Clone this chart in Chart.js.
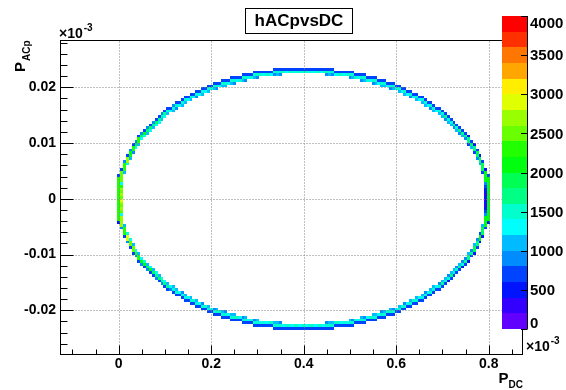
<!DOCTYPE html>
<html>
<head>
<meta charset="utf-8">
<script src="https://cdn.jsdelivr.net/npm/chart.js@4/dist/chart.umd.min.js"></script>
<style>
  html, body { margin: 0; padding: 0; background: #fff; }
  canvas { display: block; }
</style>
</head>
<body>
<canvas id="c" width="566" height="390"></canvas>
<script>
// ---- histogram binning (TH2 hACpvsDC), values shown in units of 1e-3 ----
const xBinWidth = 0.00625, xBinStart = -0.003125;  // column c is centred on c * xBinWidth
const yBinWidth = 0.0005,  yBinStart = 0;          // row r covers [r*w, (r+1)*w)

// ---- axis ranges and ticks ----
const xAxisRange = [-0.1269, 0.8735];
const yAxisRange = [-0.02784, 0.02836];
const xTickValues = [0, 0.2, 0.4, 0.6, 0.8];
const xTickLabels = ["0", "0.2", "0.4", "0.6", "0.8"];
const xMinorTicks = [-0.1, -0.05, 0.05, 0.1, 0.15, 0.25, 0.3, 0.35, 0.45, 0.5, 0.55, 0.65, 0.7, 0.75, 0.85];
const yTickValues = [-0.02, -0.01, 0, 0.01, 0.02];
const yTickLabels = ["-0.02", "-0.01", "0", "0.01", "0.02"];
const yMinorTicks = [-0.026, -0.024, -0.022, -0.018, -0.016, -0.014, -0.012, -0.008, -0.006, -0.004, -0.002,
                     0.002, 0.004, 0.006, 0.008, 0.012, 0.014, 0.016, 0.018, 0.022, 0.024, 0.026, 0.028];

// ---- colour scale ----
const paletteLevels = [0, 200, 400, 600, 800, 1000, 1200, 1400, 1600, 1800, 2000,
                       2200, 2400, 2600, 2800, 3000, 3200, 3400, 3600, 3800, 4000];
const paletteColors = ["#6200ff", "#3300ff", "#0014ff", "#0044ff", "#008bff", "#00bbff", "#00fffc",
                       "#00ffcc", "#00ff85", "#00ff55", "#00ff0e", "#22ff00", "#69ff00", "#99ff00",
                       "#e0ff00", "#ffee00", "#ffa700", "#ff7700", "#ff3000", "#ff0000"];
const zTickValues = [0, 500, 1000, 1500, 2000, 2500, 3000, 3500, 4000];
const zTickLabels = ["0", "500", "1000", "1500", "2000", "2500", "3000", "3500", "4000"];

// ---- filled bins: for each x column (0..128) the row span of the upper and lower arcs ----
// upper arc: lowest row, highest row; counts at inner edge / body / outer edge
const topLo = [-1,5,9,12,14,16,18,19,21,22, 23,24,25,26,27,28,29,30,31,31, 32,33,33,34,35,35,36,36,37,37,
  38,38,39,39,39,40,40,40,41,41, 41,42,42,42,42,43,43,43,43,44, 44,44,44,44,44,44,44,45,45,45, 45,45,45,45,
  45,
  45,45,45,45, 45,45,45,44,44,44,44,44,44,44, 44,43,43,43,43,42,42,42,42,41, 41,41,40,40,40,39,39,39,38,38,
  37,37,36,36,35,35,34,33,33,32, 31,31,30,29,28,27,26,25,24,23, 22,21,19,18,16,14,12,9,5,-1];
const topHi = [8,10,13,15,17,19,20,22,23,24, 25,26,27,28,29,30,31,32,32,33, 34,34,35,36,36,37,37,38,38,39,
  39,40,40,41,41,41,42,42,42,43, 43,43,43,44,44,44,44,45,45,45, 45,45,45,45,46,46,46,46,46,46, 46,46,46,46,
  46,
  46,46,46,46, 46,46,46,46,46,46,45,45,45,45, 45,45,45,44,44,44,44,43,43,43, 43,42,42,42,41,41,41,40,40,39,
  39,38,38,37,37,36,36,35,34,34, 33,32,32,31,30,29,28,27,26,25, 24,23,22,20,19,17,15,13,10,8];
const topIn = [2200,1200,1000,1400,1100,900,1300,1000,1200,1300, 1000,1200,1100,1300,1200,1000,1300,1100,1300,1000,
  900,1300,1000,1100,1300,1000,1300,900,1300,1000, 1300,1000,1400,1000,900,1300,1000,1100,1300,1000,
  900,1300,1400,1000,900,1300,1400,1000,900,1400, 1300,1400,1400,1300,900,1000,900,1400,1300,1400,
  1400,1300,1400,1400,
  1400,
  1400,1400,1300,1400, 1400,1300,1400,900,1000,900,1300,1400,1400,1300, 1400,900,1000,1400,1300,900,1000,1400,1300,900,
  1000,1300,1100,1000,1300,900,1000,1400,1000,1300, 1000,1300,900,1300,1000,1300,1100,1000,1300,900,
  1000,1300,1100,1000,900,1100,1000,900,1000,800, 1000,900,700,1100,600,800,1000,700,900,2000];
const topMid = [2200,2400,2200,2600,2100,2300,2000,2200,1900,2000, 1800,1900,1700,1800,1600,1700,1600,1500,1400,1500,
  1500,1400,1500,1400,1400,1500,1400,1500,1400,1400, 1500,1400,1400,1500,1400,1500,1400,1400,1500,1400,
  1400,1500,1400,1400,1500,1400,1400,1500,1400,1400, 1500,1400,1400,1400,1500,1400,1400,1400,1400,1400,
  1400,1400,1400,1400,
  1400,
  1400,1400,1400,1400, 1400,1400,1400,1400,1400,1500,1400,1400,1400,1500, 1400,1400,1500,1400,1400,1500,1400,1400,1500,1400,
  1400,1500,1400,1400,1500,1400,1500,1400,1400,1500, 1400,1400,1500,1400,1500,1400,1400,1500,1400,1500,
  1500,1400,1500,1500,1600,1500,1500,1600,1500,1600, 1600,1700,1600,1800,1700,1900,1800,1900,2000,2000];
const topOut = [600,700,900,600,800,700,900,600,800,700, 900,700,800,700,600,800,700,600,700,800,
  700,700,600,700,700,600,700,700,600,700, 700,600,700,700,600,700,700,600,700,700,
  600,700,700,600,700,700,600,700,700,700, 700,600,700,700,700,600,700,700,700,600,
  700,700,700,700,
  700,
  700,700,700,700, 600,700,700,700,600,700,700,700,600,700, 700,700,700,600,700,700,600,700,700,600,
  700,700,600,700,700,600,700,700,600,700, 700,600,700,700,600,700,700,600,700,700,
  600,700,700,600,700,600,700,600,700,600, 700,600,500,700,500,600,400,600,500,600];

// lower arc: lowest row, highest row; counts at outer edge / body / inner edge
const botLo = [-9,-11,-14,-16,-18,-20,-21,-23,-24,-25, -26,-27,-28,-29,-30,-31,-32,-33,-33,-34,
  -35,-35,-36,-37,-37,-38,-38,-39,-39,-40, -40,-41,-41,-42,-42,-42,-43,-43,-43,-44,
  -44,-44,-44,-45,-45,-45,-45,-46,-46,-46, -46,-46,-46,-46,-47,-47,-47,-47,-47,-47, -47,-47,-47,-47,
  -47,
  -47,-47,-47,-47, -47,-47,-47,-47,-47,-47,-46,-46,-46,-46, -46,-46,-46,-45,-45,-45,-45,-44,-44,-44,
  -44,-43,-43,-43,-42,-42,-42,-41,-41,-40, -40,-39,-39,-38,-38,-37,-37,-36,-35,-35,
  -34,-33,-33,-32,-31,-30,-29,-28,-27,-26, -25,-24,-23,-21,-20,-18,-16,-14,-11,-9];
const botHi = [-2,-6,-10,-13,-15,-17,-19,-20,-22,-23, -24,-25,-26,-27,-28,-29,-30,-31,-32,-32,
  -33,-34,-34,-35,-36,-36,-37,-37,-38,-38, -39,-39,-40,-40,-40,-41,-41,-41,-42,-42,
  -42,-43,-43,-43,-43,-44,-44,-44,-44,-45, -45,-45,-45,-45,-45,-45,-45,-46,-46,-46, -46,-46,-46,-46,
  -46,
  -46,-46,-46,-46, -46,-46,-46,-45,-45,-45,-45,-45,-45,-45, -45,-44,-44,-44,-44,-43,-43,-43,-43,-42,
  -42,-42,-41,-41,-41,-40,-40,-40,-39,-39, -38,-38,-37,-37,-36,-36,-35,-34,-34,-33,
  -32,-32,-31,-30,-29,-28,-27,-26,-25,-24, -23,-22,-20,-19,-17,-15,-13,-10,-6,-2];
const botOut = [500,800,600,900,700,600,800,700,900,600, 800,700,600,800,700,900,700,600,800,700,
  600,700,700,600,700,700,600,700,700,600, 700,700,600,700,700,600,700,700,600,700,
  700,600,700,700,600,700,700,600,700,700, 600,700,700,600,700,700,700,600,700,700,
  700,600,700,700,
  700,
  700,700,600,700, 700,700,600,700,700,700,600,700,700,600, 700,700,600,700,700,600,700,700,600,700,
  700,600,700,700,600,700,700,600,700,700, 600,700,700,600,700,700,600,700,700,600,
  700,600,700,600,700,500,600,700,600,700, 500,600,500,700,500,600,400,500,600,500];
const botMid = [2200,2600,2300,2800,2400,2500,2200,2300,2000,2100, 1900,2000,1800,1700,1800,1600,1700,1600,1400,1500,
  1400,1500,1400,1500,1400,1400,1500,1400,1500,1400, 1400,1500,1400,1400,1500,1400,1400,1500,1400,1500,
  1400,1400,1500,1400,1400,1500,1400,1400,1500,1400, 1400,1500,1400,1400,1500,1400,1400,1400,1400,1400,
  1400,1400,1400,1400,
  1400,
  1400,1400,1400,1400, 1400,1400,1400,1400,1400,1500,1400,1400,1500,1400, 1400,1500,1400,1400,1500,1400,1400,1500,1400,1400,
  1500,1400,1500,1400,1400,1500,1400,1400,1500,1400, 1400,1500,1400,1500,1400,1400,1500,1400,1500,1400,
  1500,1400,1500,1600,1500,1500,1600,1500,1500,1600, 1500,1600,1700,1600,1800,1700,2000,1900,2100,2000];
const botIn = [2200,1300,1100,1400,1200,1000,1300,1100,1200,1400, 1100,1300,1000,1200,1100,1300,1200,1000,1300,1100,
  1100,1300,900,1000,1300,1100,1400,1000,1300,900, 1400,1100,1300,900,1000,1400,1100,900,1300,1000,
  1100,1400,1300,900,1000,1300,1400,900,1100,1300, 1400,1300,1400,1400,1000,1100,900,1300,1400,1400,
  1300,1400,1400,1300,
  1400,
  1300,1400,1400,1300, 1400,1400,1300,900,1100,1000,1400,1400,1300,1400, 1300,1100,900,1400,1300,1000,900,1300,1400,1100,
  1000,1300,900,1100,1400,1000,900,1300,1100,1400, 900,1300,1000,1400,1100,1300,1000,900,1300,1100,
  1000,1300,900,1100,1000,900,1000,1100,900,1000, 800,900,1000,800,1100,900,700,1000,800,2000];

// extra bins beside the two turning points: [column, row, count]
const turnCells = [
  [1,-5,2500],[1,-4,2700],[1,-3,2400],[1,-2,2600],[1,-1,2800],[1,0,2500],[1,1,2600],[1,2,2400],[1,3,2700],[1,4,2300],
  [127,-5,600],[127,-4,400],[127,-3,300],[127,-2,500],[127,-1,300],[127,0,400],[127,1,300],[127,2,500],[127,3,400],[127,4,700]
];

// ---- one entry per filled bin ----
function bandCells(col, lo, hi, cLo, cMid, cHi) {
  const out = [];
  for (let r = lo; r <= hi; r++) {
    const v = r === lo ? cLo : (r === hi ? cHi : cMid);
    const x0 = xBinStart + col * xBinWidth, y0 = yBinStart + r * yBinWidth;
    out.push({ x: x0 + xBinWidth / 2, y: y0 + yBinWidth / 2, x0, x1: x0 + xBinWidth, y0, y1: y0 + yBinWidth, v });
  }
  return out;
}
const cells = [];
for (let j = 0; j < topLo.length; j++) {
  cells.push(...bandCells(j, topLo[j], topHi[j], topIn[j], topMid[j], topOut[j]));
  cells.push(...bandCells(j, botLo[j], botHi[j], botOut[j], botMid[j], botIn[j]));
}
for (const [col, row, v] of turnCells) cells.push(...bandCells(col, row, row, v, v, v));

const FONT = '"Liberation Sans", Arial, Helvetica, sans-serif';

function colourFor(v) {
  for (let i = 0; i < paletteColors.length; i++) {
    if (v < paletteLevels[i + 1]) return paletteColors[i];
  }
  return paletteColors[paletteColors.length - 1];
}

// frame, grid, ticks, colour bar and labels drawn in ROOT style
const rootStyle = {
  id: 'rootStyle',
  beforeDraw(chart) {
    const ctx = chart.ctx;
    ctx.save();
    ctx.fillStyle = '#fff';
    ctx.fillRect(0, 0, chart.width, chart.height);
    ctx.restore();
  },
  afterDatasetsDraw(chart) {
    const ctx = chart.ctx;
    const a = chart.chartArea;
    const xs = chart.scales.x, ys = chart.scales.y;
    ctx.save();

    // histogram bins
    for (const c of chart.data.datasets[0].data) {
      const px0 = Math.round(xs.getPixelForValue(c.x0));
      const px1 = Math.round(xs.getPixelForValue(c.x1));
      const py0 = Math.round(ys.getPixelForValue(c.y1));
      const py1 = Math.round(ys.getPixelForValue(c.y0));
      ctx.fillStyle = colourFor(c.v);
      ctx.fillRect(px0, py0, px1 - px0, py1 - py0);
    }

    const L = Math.floor(a.left) + 0.5, R = Math.floor(a.right) + 0.5;
    const T = Math.floor(a.top) + 0.5, B = Math.floor(a.bottom) + 0.5;

    // dotted grid at the labelled ticks
    ctx.strokeStyle = '#808080';
    ctx.lineWidth = 1;
    ctx.setLineDash([1, 2]);
    for (const v of xTickValues) {
      const p = Math.round(xs.getPixelForValue(v)) + 0.5;
      ctx.beginPath(); ctx.moveTo(p, B); ctx.lineTo(p, T); ctx.stroke();
    }
    for (const v of yTickValues) {
      const p = Math.round(ys.getPixelForValue(v)) + 0.5;
      ctx.beginPath(); ctx.moveTo(L, p); ctx.lineTo(R, p); ctx.stroke();
    }
    ctx.setLineDash([]);

    // frame
    ctx.strokeStyle = '#000';
    ctx.lineWidth = 1;
    ctx.strokeRect(L, T, R - L, B - T);

    // tick marks pointing into the frame
    ctx.beginPath();
    for (const v of xTickValues) {
      const p = Math.round(xs.getPixelForValue(v)) + 0.5;
      ctx.moveTo(p, B); ctx.lineTo(p, B - 9);
    }
    for (const v of xMinorTicks) {
      const p = Math.round(xs.getPixelForValue(v)) + 0.5;
      ctx.moveTo(p, B); ctx.lineTo(p, B - 5);
    }
    for (const v of yTickValues) {
      const p = Math.round(ys.getPixelForValue(v)) + 0.5;
      ctx.moveTo(L, p); ctx.lineTo(L + 13, p);
    }
    for (const v of yMinorTicks) {
      const p = Math.round(ys.getPixelForValue(v)) + 0.5;
      ctx.moveTo(L, p); ctx.lineTo(L + 7, p);
    }
    ctx.stroke();

    // colour bar
    const pb = { left: 502, right: 527, top: 16, bottom: 329 };
    const zMax = paletteLevels[paletteLevels.length - 1];
    const zPix = v => pb.bottom - (v / zMax) * (pb.bottom - pb.top);
    for (let i = 0; i < paletteColors.length; i++) {
      const y1 = Math.round(zPix(paletteLevels[i]));
      const y2 = Math.round(zPix(paletteLevels[i + 1]));
      ctx.fillStyle = paletteColors[i];
      ctx.fillRect(pb.left, y2, pb.right - pb.left, y1 - y2);
    }
    ctx.strokeStyle = '#000';
    ctx.beginPath();
    ctx.moveTo(pb.right + 0.5, pb.top); ctx.lineTo(pb.right + 0.5, pb.bottom);
    for (const v of zTickValues) {
      const p = Math.round(zPix(v)) + 0.5;
      ctx.moveTo(pb.right + 0.5, p); ctx.lineTo(pb.right - 6, p);
    }
    ctx.stroke();
    ctx.fillStyle = '#000';
    ctx.font = 'bold 15px ' + FONT;
    ctx.textAlign = 'left';
    const last = zTickValues.length - 1;
    zTickValues.forEach((v, i) => {
      // end labels sit inside the bar's height
      ctx.textBaseline = i === 0 ? 'bottom' : (i === last ? 'top' : 'middle');
      const dy = i === 0 ? 2 : (i === last ? 0 : 1);
      ctx.fillText(zTickLabels[i], pb.right + 3, zPix(v) + dy);
    });

    // exponent labels
    ctx.textBaseline = 'alphabetic';
    ctx.font = 'bold 14px ' + FONT;
    ctx.fillText('\u00d710', 59, 38);
    let w = ctx.measureText('\u00d710').width;
    ctx.font = 'bold 10px ' + FONT;
    ctx.fillText('-3', 59 + w + 1, 31);
    ctx.font = 'bold 14px ' + FONT;
    ctx.fillText('\u00d710', 526, 351);
    w = ctx.measureText('\u00d710').width;
    ctx.font = 'bold 10px ' + FONT;
    ctx.fillText('-3', 526 + w + 1, 344);

    // axis titles
    ctx.textAlign = 'right';
    ctx.font = 'bold 10px ' + FONT;
    ctx.fillText('DC', 523, 388);
    const wSub = ctx.measureText('DC').width;
    ctx.font = 'bold 15px ' + FONT;
    ctx.fillText('P', 523 - wSub, 383);

    ctx.save();
    ctx.translate(25, 72);
    ctx.rotate(-Math.PI / 2);
    ctx.textAlign = 'left';
    ctx.font = 'bold 15px ' + FONT;
    ctx.fillText('P', 0, 0);
    const wP = ctx.measureText('P').width;
    ctx.font = 'bold 10px ' + FONT;
    ctx.fillText('ACp', wP + 1, 5);
    ctx.restore();

    // title box
    ctx.fillStyle = '#fff';
    ctx.fillRect(246, 9, 106, 24);
    ctx.strokeStyle = '#000';
    ctx.strokeRect(245.5, 8.5, 107, 25);
    ctx.fillStyle = '#000';
    ctx.font = 'bold 17px ' + FONT;
    ctx.textAlign = 'center';
    ctx.textBaseline = 'middle';
    ctx.fillText('hACpvsDC', 299, 21);

    ctx.restore();
  }
};

const tickFont = { family: FONT, size: 14, weight: 'bold' };

new Chart(document.getElementById('c').getContext('2d'), {
  type: 'scatter',
  data: {
    datasets: [{ label: 'hACpvsDC', data: cells, pointRadius: 0, pointHoverRadius: 0 }]
  },
  options: {
    responsive: false,
    animation: false,
    devicePixelRatio: 1,
    events: [],
    layout: { padding: { left: 0, top: 40.7, right: 43.3, bottom: 0 } },
    plugins: { legend: { display: false }, tooltip: { enabled: false }, title: { display: false } },
    scales: {
      x: {
        type: 'linear', min: xAxisRange[0], max: xAxisRange[1],
        afterBuildTicks: s => { s.ticks = xTickValues.map(v => ({ value: v })); },
        afterFit: s => { s.height = 36; },
        grid: { display: false, drawTicks: false },
        border: { display: false },
        ticks: { color: '#000', font: tickFont, padding: 2, maxRotation: 0, autoSkip: false,
                 callback: (v, i) => xTickLabels[i] }
      },
      y: {
        type: 'linear', min: yAxisRange[0], max: yAxisRange[1],
        afterBuildTicks: s => { s.ticks = yTickValues.map(v => ({ value: v })); },
        afterFit: s => { s.width = 60; },
        grid: { display: false, drawTicks: false },
        border: { display: false },
        ticks: { color: '#000', font: tickFont, padding: 4, autoSkip: false,
                 callback: (v, i) => yTickLabels[i] }
      }
    }
  },
  plugins: [rootStyle]
});
</script>
</body>
</html>
